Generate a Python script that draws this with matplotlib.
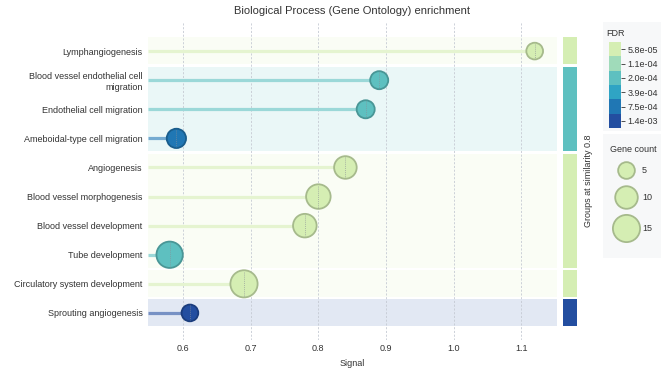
import matplotlib
matplotlib.use("Agg")
import matplotlib.pyplot as plt
import numpy as np
from matplotlib.colors import ListedColormap, to_rgb
from matplotlib.patches import Rectangle

plt.rcParams['font.family'] = ['Liberation Sans', 'DejaVu Sans']

terms = ["Lymphangiogenesis",
         "Blood vessel endothelial cell\nmigration",
         "Endothelial cell migration",
         "Ameboidal-type cell migration",
         "Angiogenesis",
         "Blood vessel morphogenesis",
         "Blood vessel development",
         "Tube development",
         "Circulatory system development",
         "Sprouting angiogenesis"]
signal = [1.12, 0.89, 0.87, 0.59, 0.84, 0.80, 0.78, 0.58, 0.69, 0.61]
gene_count = [5, 6, 6, 7, 10, 12, 11, 14, 15, 5]
fdr = [5.0e-05, 2.1e-04, 2.3e-04, 7.6e-04, 5.5e-05, 5.6e-05, 5.8e-05, 2.0e-04, 6.0e-05, 1.4e-03]
group = [0, 1, 1, 1, 2, 2, 2, 2, 3, 4]

fdr_ticks = [5.8e-05, 1.1e-04, 2.0e-04, 3.9e-04, 7.5e-04, 1.4e-03]
fdr_colors = ['#d5eeb3', '#a0dbba', '#5ec0c0', '#2fa4c4', '#2077b4', '#234ea0']
legend_counts = [5, 10, 15]

ROW_PX = 29.1
DPI = 100
TXT = '#333333'


def fdr_color(v):
    i = int(np.argmin(np.abs(np.log(fdr_ticks) - np.log(v))))
    return fdr_colors[i]


def blend(c, a):
    r = np.array(to_rgb(c))
    return tuple(a * r + (1 - a) * 1.0)


def darker(c, f=0.78):
    return tuple(np.array(to_rgb(c)) * f)


def diam_px(n):
    return np.sqrt(50 + 46 * n)


def size_pt2(n):
    return (diam_px(n) * 72 / DPI) ** 2


fig = plt.figure(figsize=(6.61, 3.72), dpi=DPI)

# legend panel backgrounds (behind everything)
for y_top, h in [(22, 109), (134, 124)]:
    fig.add_artist(Rectangle((603 / 661, 1 - (y_top + h) / 372), 58 / 661, h / 372,
                             transform=fig.transFigure, color='#f7f8f9',
                             zorder=-5, lw=0))

ax = fig.add_axes([148 / 661, 1 - 340 / 372, 409 / 661, 318 / 372])
gax = fig.add_axes([563 / 661, 1 - 340 / 372, 14 / 661, 318 / 372])

n = len(terms)
ypos = np.arange(n)
xlim = (0.548, 1.153)
ylim = (9.93, -1.0)
ax.set_xlim(*xlim)
ax.set_ylim(*ylim)

colors = [fdr_color(v) for v in fdr]

# group bands and group colour bar
for g in sorted(set(group)):
    idx = [i for i in range(n) if group[i] == g]
    best = idx[int(np.argmin([fdr[i] for i in idx]))]
    gc = colors[best]
    y0, y1 = min(idx) - 0.47, max(idx) + 0.45
    ax.axhspan(y0, y1, color=blend(gc, 0.13), zorder=0, lw=0)
    gax.axhspan(y0, y1, color=gc, lw=0)

# stems
for i in range(n):
    ax.hlines(ypos[i], xlim[0], signal[i], color=blend(colors[i], 0.62),
              lw=2.3, zorder=2)

ax.scatter(signal, ypos, s=[size_pt2(c) for c in gene_count], c=colors,
           edgecolors=[darker(c) for c in colors], linewidths=1.3, zorder=3)

# little dashed center line inside each marker
for i in range(n):
    r = diam_px(gene_count[i]) / 2 / ROW_PX * 0.9
    ax.vlines(signal[i], ypos[i] - r, ypos[i] + r, color='#8a8f96',
              lw=0.5, linestyles=(0, (1.5, 1.5)), zorder=4, alpha=0.8)

ax.set_xticks([0.6, 0.7, 0.8, 0.9, 1.0, 1.1])
ax.set_yticks(ypos, labels=terms)
ax.tick_params(axis='both', length=0, labelsize=6.5, colors=TXT)
ax.tick_params(axis='y', pad=4)
ax.tick_params(axis='x', pad=3)
ax.set_axisbelow(True)
ax.grid(axis='x', color='#c5cad3', lw=0.6, linestyle=(0, (2.5, 2)))
for sp in ax.spines.values():
    sp.set_visible(False)
ax.set_xlabel("Signal", fontsize=6.5, color=TXT, labelpad=4)
ax.set_title("Biological Process (Gene Ontology) enrichment", fontsize=8,
             color=TXT, pad=6)

gax.set_ylim(*ylim)
gax.set_xlim(0, 1)
gax.set_xticks([])
gax.set_yticks([])
for sp in gax.spines.values():
    sp.set_visible(False)
gax.yaxis.set_label_position('right')
gax.set_ylabel("Groups at similarity 0.8", fontsize=6.5, color=TXT,
               labelpad=5)

# FDR colour legend
fig.text(606 / 661, 1 - 33 / 372, "FDR", fontsize=6.5, color=TXT,
         va='center', ha='left')
cax = fig.add_axes([609 / 661, 1 - 128 / 372, 12 / 661, 86 / 372])
cax.imshow(np.arange(len(fdr_colors)).reshape(-1, 1), aspect='auto',
           cmap=ListedColormap(fdr_colors), interpolation='nearest')
cax.set_xticks([])
cax.yaxis.tick_right()
cax.set_yticks(np.arange(len(fdr_ticks)),
               labels=[f"{t:.1e}" for t in fdr_ticks])
cax.tick_params(axis='y', length=3, width=0.6, pad=1.5, labelsize=6.5,
                colors=TXT)
for sp in cax.spines.values():
    sp.set_visible(False)

# gene count size legend
fig.text(610 / 661, 1 - 150 / 372, "Gene count", fontsize=6.5, color=TXT,
         va='center', ha='left')
lax = fig.add_axes([603 / 661, 1 - 258 / 372, 58 / 661, 100 / 372])
lax.set_xlim(603, 661)
lax.set_ylim(258, 158)
lax.axis('off')
leg_y = [170, 197, 228]
for cnt, yy in zip(legend_counts, leg_y):
    lax.scatter([626], [yy], s=size_pt2(cnt), c=[fdr_colors[0]],
                edgecolors=[darker(fdr_colors[0])], linewidths=1.3,
                clip_on=False)
    lax.text(642, yy, str(cnt), fontsize=6.5, color=TXT, va='center',
             ha='left')

fig.savefig("out.png", dpi=DPI)
